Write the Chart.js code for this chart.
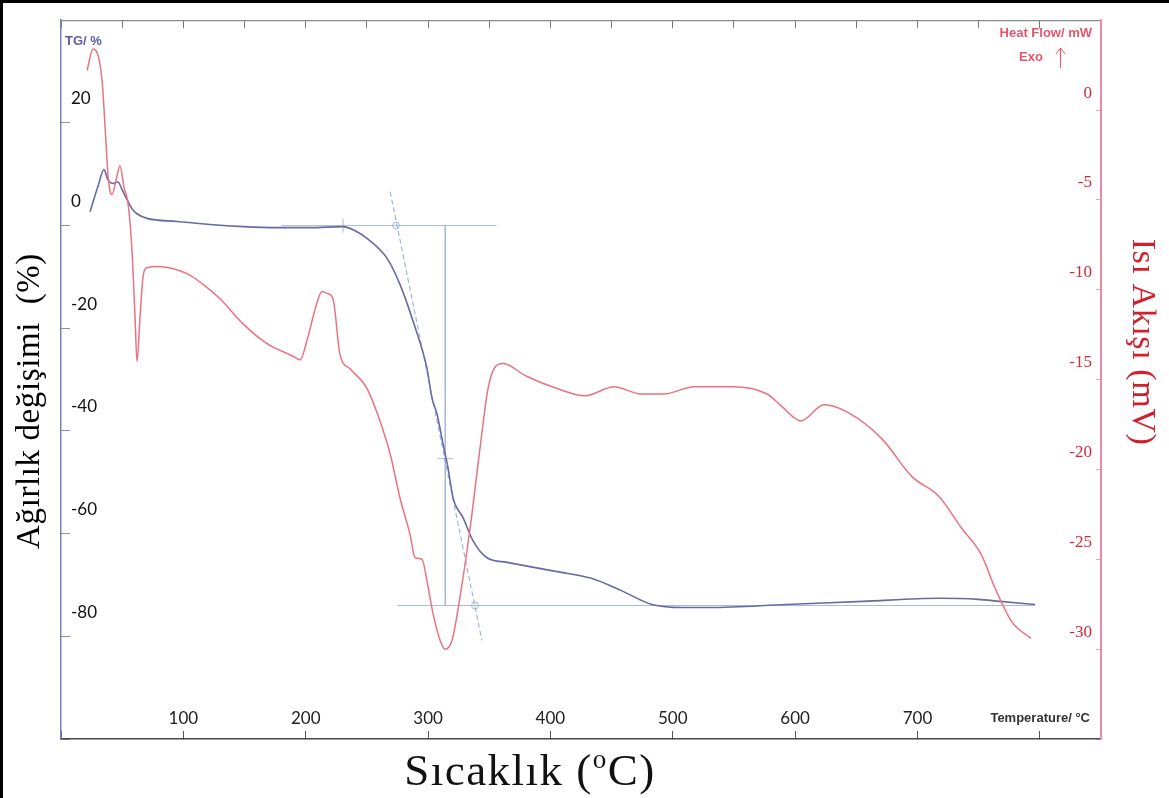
<!DOCTYPE html>
<html>
<head>
<meta charset="utf-8">
<script src="https://cdn.jsdelivr.net/npm/chart.js@4.4.1/dist/chart.umd.min.js"></script>
<style>
  html, body { margin: 0; padding: 0; background: #fff; }
  canvas { display: block; }
</style>
</head>
<body>
<canvas id="tga" width="1169" height="798"></canvas>
<script>
// TG curve: temperature (°C) and mass change (%)
const tgTemp = [23.7, 30.2, 35.1, 38.4, 42.5, 46.6, 49.9, 53.9, 58.0, 62.1, 70.3, 94.8, 121.8, 148.8, 176.5, 203.5,
  230.5, 240.3, 250.1, 266.5, 277.1, 287.7, 299.1, 303.2, 307.3, 312.2, 316.3, 320.4, 328.6, 336.8, 348.2, 364.5,
  405.4, 433.5, 458.0, 483.0, 508.4, 530.5, 592.6, 655.5, 717.6, 749.5, 767.5, 796.1];
const tgPct = [2.7, 7.6, 10.9, 8.9, 8.2, 8.5, 7.0, 5.1, 3.3, 2.3, 1.4, 0.8, 0.2, -0.2, -0.4, -0.4,
  -0.2, -1.0, -2.5, -6.4, -11.5, -18.6, -27.8, -33.6, -36.7, -42.5, -47.2, -53.0, -56.9, -61.4, -64.7, -65.6,
  -67.4, -68.7, -71.1, -73.8, -74.4, -74.4, -73.8, -73.2, -72.6, -72.8, -73.2, -73.8];

// DSC curve: temperature (°C) and heat flow
const hfTemp = [21.3, 26.2, 33.5, 36.0, 38.4, 40.0, 41.7, 45.0, 48.2, 51.5, 54.8, 58.0, 60.5, 62.1, 64.6, 67.0,
  69.5, 78.5, 103.0, 116.1, 130.0, 148.8, 168.4, 189.6, 195.3, 201.9, 208.4, 213.3, 217.4, 222.3, 228.0, 236.2,
  250.1, 260.7, 268.9, 277.1, 285.2, 289.3, 295.1, 299.1, 304.0, 309.8, 313.8, 319.6, 326.1, 334.3, 342.5, 349.0,
  354.8, 361.3, 380.1, 405.4, 428.3, 452.0, 474.1, 492.8, 517.4, 549.2, 577.0, 589.3, 604.8, 623.6, 642.4, 671.0,
  695.5, 717.6, 736.4, 751.9, 763.4, 777.3, 792.8];
const hfMw = [2.2, 3.4, 1.7, -0.9, -3.6, -4.5, -4.7, -3.9, -3.1, -4.3, -5.2, -7.8, -11.5, -14.0, -11.5, -9.3,
  -8.8, -8.7, -9.1, -9.7, -10.5, -11.9, -13.0, -13.7, -13.9, -12.6, -10.9, -10.1, -10.2, -10.5, -13.6, -14.4,
  -15.5, -17.3, -19.1, -21.6, -23.6, -24.9, -25.0, -26.2, -28.0, -29.5, -30.0, -29.5, -27.1, -23.3, -18.8, -15.5,
  -14.3, -14.1, -14.8, -15.5, -15.9, -15.4, -15.8, -15.8, -15.4, -15.4, -15.8, -16.5, -17.3, -16.4, -16.8, -18.3,
  -20.4, -21.5, -23.3, -24.7, -26.6, -28.5, -29.4];

// step evaluation construction (TG axis)
const baseTopT = [180, 356], baseTopY = [0, 0];
const baseLowT = [275, 796], baseLowY = [-74, -74];
const stepT = [314, 314], stepY = [0, -74];
const tangentT = [269, 344], tangentY = [6.6, -80.8];
const markT = [273.8, 338.4], markY = [0, -74];
const onsetT = [230.5], onsetY = [0];
const midT = [314], midY = [-45.4];

// axis tick labels
const tgTicks = [20, 0, -20, -40, -60, -80];
const hfTicks = [0, -5, -10, -15, -20, -25, -30];
const tempTicks = [100, 200, 300, 400, 500, 600, 700];

const pts = (xs, ys) => xs.map((x, i) => ({ x: x, y: ys[i] }));
const guide = '#a3bce2';
const serif = '"Liberation Serif", "Times New Roman", serif';

const decor = {
  id: 'decor',
  beforeDraw(chart) {
    const ctx = chart.ctx;
    ctx.save();
    ctx.fillStyle = '#fff';
    ctx.fillRect(0, 0, chart.width, chart.height);
    ctx.restore();
  },
  afterDraw(chart) {
    const ctx = chart.ctx;
    ctx.save();
    // frame edges
    ctx.fillStyle = '#000';
    ctx.fillRect(0, 0, 3, chart.height);
    ctx.fillRect(0, 0, chart.width, 3);

    // instrument captions
    ctx.textBaseline = 'middle';
    ctx.font = 'bold 13px "Liberation Sans", Arial';
    ctx.fillStyle = '#5b5ea6';
    ctx.textAlign = 'left';
    ctx.fillText('TG/ %', 65, 41);
    ctx.fillStyle = '#e5566c';
    ctx.textAlign = 'right';
    ctx.fillText('Heat Flow/ mW', 1092, 33);
    ctx.textAlign = 'center';
    ctx.fillText('Exo', 1031, 57);
    ctx.strokeStyle = '#e5566c';
    ctx.lineWidth = 1;
    ctx.beginPath();
    ctx.moveTo(1060.5, 68); ctx.lineTo(1060.5, 48);
    ctx.moveTo(1056, 54); ctx.lineTo(1060.5, 48); ctx.lineTo(1065, 54);
    ctx.stroke();
    ctx.fillStyle = '#333';
    ctx.textAlign = 'right';
    ctx.fillText('Temperature/ °C', 1090, 718);

    // axis titles
    ctx.textAlign = 'center';
    ctx.fillStyle = '#000';
    ctx.font = '33px ' + serif;
    ctx.letterSpacing = '0.6px';
    ctx.save();
    ctx.translate(30, 401);
    ctx.rotate(-Math.PI / 2);
    ctx.fillText('Ağırlık değişimi  (%)', 0, 0);
    ctx.restore();

    ctx.fillStyle = '#d11f2c';
    ctx.font = '34px ' + serif;
    ctx.save();
    ctx.translate(1142, 342);
    ctx.rotate(Math.PI / 2);
    ctx.fillText('Isı Akışı (mV)', 0, 0);
    ctx.restore();

    // x title with superscript o
    ctx.fillStyle = '#111';
    ctx.textAlign = 'left';
    ctx.textBaseline = 'alphabetic';
    ctx.letterSpacing = '1.5px';
    const big = '45px ' + serif;
    const small = '27px ' + serif;
    const a = 'Sıcaklık (', o = 'o', c = 'C)';
    ctx.font = big; const wa = ctx.measureText(a).width, wc = ctx.measureText(c).width;
    ctx.font = small; const wo = ctx.measureText(o).width;
    let x = 530 - (wa + wo + wc) / 2;
    const base = 785;
    ctx.font = big; ctx.fillText(a, x, base); x += wa;
    ctx.font = small; ctx.fillText(o, x, base - 17); x += wo;
    ctx.font = big; ctx.fillText(c, x, base);
    ctx.restore();
  }
};

const line = (data, color, width, axis, extra) => Object.assign({
  data: data, yAxisID: axis, borderColor: color, borderWidth: width,
  pointRadius: 0, fill: false, cubicInterpolationMode: 'monotone'
}, extra || {});

new Chart(document.getElementById('tga'), {
  type: 'line',
  data: {
    datasets: [
      line(pts(hfTemp, hfMw), '#ec7282', 1.5, 'y1'),
      line(pts(tgTemp, tgPct), '#676ba4', 1.6, 'y'),
      line(pts(baseTopT, baseTopY), guide, 1, 'y'),
      line(pts(baseLowT, baseLowY), guide, 1, 'y'),
      line(pts(stepT, stepY), '#8fa6cf', 1.2, 'y'),
      line(pts(tangentT, tangentY), '#97b1dc', 1.1, 'y', { borderDash: [5, 3] }),
      line(pts(markT, markY), guide, 1, 'y', { showLine: false, pointRadius: 3.5, pointBorderColor: guide, pointBackgroundColor: 'rgba(0,0,0,0)', pointBorderWidth: 1 }),
      line(pts(onsetT, onsetY), guide, 1, 'y', { showLine: false, pointStyle: 'line', rotation: 90, pointRadius: 7, pointBorderColor: guide, pointBorderWidth: 1 }),
      line(pts(midT, midY), guide, 1, 'y', { showLine: false, pointStyle: 'line', pointRadius: 8, pointBorderColor: guide, pointBorderWidth: 1 })
    ]
  },
  options: {
    responsive: false,
    animation: false,
    devicePixelRatio: 1,
    layout: { padding: { left: 61, right: 68, top: 18, bottom: 59 } },
    plugins: { legend: { display: false }, tooltip: { enabled: false } },
    scales: {
      x: {
        type: 'linear', position: 'bottom', min: 0, max: 850,
        afterFit: (s) => { s.height = 0; },
        border: { color: '#4a4a4a', width: 1.5 },
        grid: { drawOnChartArea: false, tickLength: -8, color: '#555' },
        ticks: {
          // mirrored so the labels sit above the axis line
          stepSize: 100, autoSkip: false, maxRotation: 0, mirror: true, padding: 10,
          color: '#222', font: { family: 'Lato', size: 17 },
          callback: (v) => tempTicks.includes(v) ? String(v) : ''
        }
      },
      xTop: {
        type: 'linear', position: 'top', min: 0, max: 850,
        afterFit: (s) => { s.height = 0; },
        border: { color: '#8a8a8a', width: 1.2 },
        grid: { drawOnChartArea: false, tickLength: -8, color: '#777' },
        ticks: { display: false, stepSize: 50, autoSkip: false }
      },
      y: {
        position: 'left', min: -100, max: 40,
        afterFit: (s) => { s.width = 0; },
        border: { color: '#7c82b0', width: 1.5 },
        grid: { drawOnChartArea: false, tickLength: -9, color: '#8a90b8' },
        ticks: {
          stepSize: 20, mirror: true, padding: 10, labelOffset: -24,
          color: '#111', font: { family: 'Lato', size: 17 },
          callback: (v) => tgTicks.includes(v) ? String(v) : ''
        }
      },
      y1: {
        position: 'right', min: -35, max: 5,
        afterFit: (s) => { s.width = 0; },
        border: { color: '#f08aa2', width: 2 },
        grid: { drawOnChartArea: false, tickLength: -5, color: '#f4a0b4' },
        ticks: {
          stepSize: 5, mirror: true, padding: -9, labelOffset: -17,
          color: '#d2283a', font: { family: 'Liberation Serif', size: 17 },
          callback: (v) => hfTicks.includes(v) ? String(v) : ''
        }
      }
    }
  },
  plugins: [decor]
});
</script>
</body>
</html>
